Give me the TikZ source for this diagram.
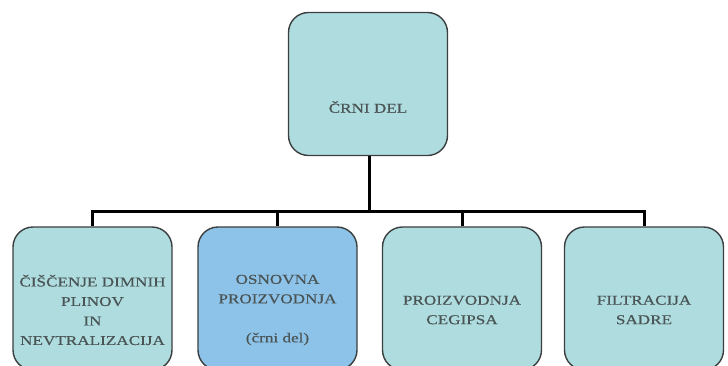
\documentclass[tikz,border=0pt]{standalone}
\usepackage{fontspec}
\setmainfont{Liberation Serif}[FakeStretch=1.27,FakeBold=0.4]
\definecolor{cyanfill}{HTML}{AEDCDF}
\definecolor{bluefill}{HTML}{8DC2E9}
\definecolor{bordercol}{HTML}{3C3F3F}
\definecolor{textcol}{HTML}{4A5454}
\begin{document}
\begin{tikzpicture}[x=1pt,y=-1pt,
  box/.style={draw=bordercol, line width=1.4pt, rounded corners=20pt,
    minimum width=159pt, minimum height=143pt, inner sep=0pt, fill=cyanfill},
  txt/.style={text=textcol, align=center, inner sep=0pt,
    font=\fontsize{13.5}{19.5}\selectfont},
  conn/.style={draw=black, line width=3pt}]
\useasboundingbox (0,0) rectangle (728,365);
% boxes
\node[box] (top) at (368,84) {};
\node[box] (b1) at (92.5,298.5) {};
\node[box, fill=bluefill] (b2) at (277.5,298.5) {};
\node[box] (b3) at (462,298.5) {};
\node[box] (b4) at (644,298.5) {};
% texts
\node[txt] (t0) at (368,107) {ČRNI DEL};
\node[txt] (t1) at (92.5,310) {ČIŠČENJE DIMNIH\\PLINOV\\IN\\NEVTRALIZACIJA};
\node[txt] (t2) at (277.5,310) {OSNOVNA\\PROIZVODNJA\\[19.5pt](črni del)};
\node[txt] (t3) at (462,310) {PROIZVODNJA\\CEGIPSA};
\node[txt] (t4) at (644,310) {FILTRACIJA\\SADRE};
% connectors
\coordinate (bus) at (369,211.5);
\draw[conn] (top.south -| bus) -- (bus);
\draw[conn] (b1.north) -- (b1.north |- bus) -- (b4.north |- bus) -- (b4.north);
\draw[conn] (b2.north) -- (b2.north |- bus);
\draw[conn] (b3.north) -- (b3.north |- bus);
\end{tikzpicture}
\end{document}
